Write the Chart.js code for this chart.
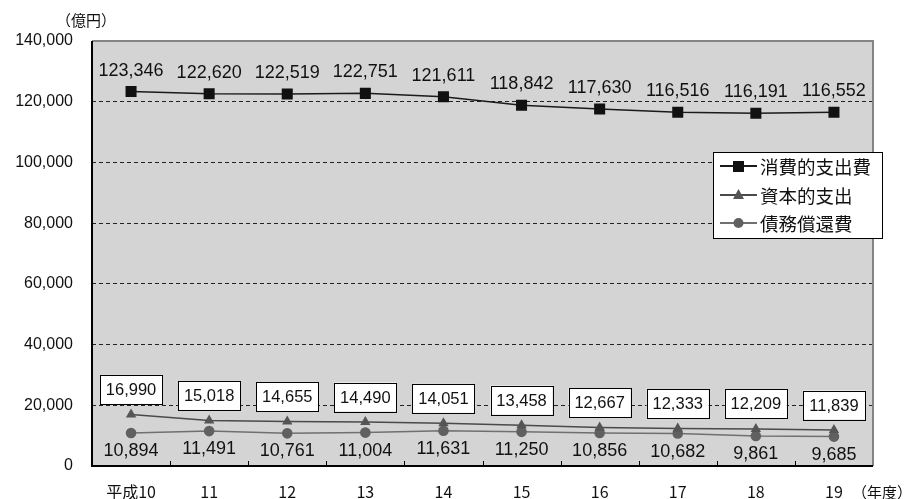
<!DOCTYPE html>
<html lang="ja">
<head>
<meta charset="utf-8">
<title>歳出の推移</title>
<script src="https://cdn.jsdelivr.net/npm/chart.js@4/dist/chart.umd.min.js"></script>
<style>
  html, body { margin: 0; padding: 0; background: #ffffff; }
  #wrap { position: relative; width: 913px; height: 499px; }
</style>
</head>
<body>
<div id="wrap"><canvas id="chart" width="913" height="499"></canvas></div>
<script>
// Fiscal years (平成)
const years = ['平成10', '11', '12', '13', '14', '15', '16', '17', '18', '19'];

// Expenditure by type (億円)
const consumption = [123346, 122620, 122519, 122751, 121611, 118842, 117630, 116516, 116191, 116552];
const capital     = [16990, 15018, 14655, 14490, 14051, 13458, 12667, 12333, 12209, 11839];
const debt        = [10894, 11491, 10761, 11004, 11631, 11250, 10856, 10682, 9861, 9685];

const seriesNames = ['消費的支出費', '資本的支出', '債務償還費'];

const yTicks = [0, 20000, 40000, 60000, 80000, 100000, 120000, 140000];

const FONT = '"Liberation Sans", "Noto Sans CJK JP", Arial, sans-serif';
const JP_FONT = '"Noto Sans CJK JP", "Liberation Sans", sans-serif';

const fmt = v => v.toLocaleString('en-US');

// Gray plot area with black left/bottom border and gray top/right border
const plotFrame = {
  id: 'plotFrame',
  beforeDraw(chart) {
    const { ctx, chartArea: a } = chart;
    ctx.save();
    ctx.fillStyle = '#d4d4d4';
    ctx.fillRect(a.left, a.top, a.right - a.left, a.bottom - a.top);
    ctx.restore();
  },
  afterDraw(chart) {
    const { ctx, chartArea: a } = chart;
    ctx.save();
    ctx.lineWidth = 2;
    ctx.strokeStyle = '#858585';
    ctx.beginPath();
    ctx.moveTo(a.left, a.top);
    ctx.lineTo(a.right, a.top);
    ctx.lineTo(a.right, a.bottom);
    ctx.stroke();
    ctx.strokeStyle = '#000000';
    ctx.beginPath();
    ctx.moveTo(a.left, a.top);
    ctx.lineTo(a.left, a.bottom);
    ctx.lineTo(a.right, a.bottom);
    ctx.stroke();
    // inward tick marks between categories
    const n = years.length;
    const step = (a.right - a.left) / n;
    ctx.lineWidth = 1;
    ctx.beginPath();
    for (let i = 1; i < n; i++) {
      const px = Math.round(a.left + step * i) + 0.5;
      ctx.moveTo(px, a.bottom);
      ctx.lineTo(px, a.bottom - 5);
    }
    ctx.stroke();
    ctx.restore();
  }
};

// Value labels for each series
const valueLabels = {
  id: 'valueLabels',
  afterDatasetsDraw(chart) {
    const { ctx } = chart;
    ctx.save();
    ctx.textAlign = 'center';
    ctx.textBaseline = 'middle';
    ctx.fillStyle = '#111111';

    // consumption: plain text above the points
    ctx.font = '18px ' + FONT;
    chart.getDatasetMeta(0).data.forEach((pt, i) => {
      ctx.fillText(fmt(consumption[i]), pt.x, pt.y - 21);
    });

    // capital: boxed labels above the points
    ctx.font = '16.5px ' + FONT;
    chart.getDatasetMeta(1).data.forEach((pt, i) => {
      const cy = pt.y - 25;
      const w = 62, h = 29;
      ctx.fillStyle = '#ffffff';
      ctx.fillRect(pt.x - w / 2, cy - h / 2, w, h);
      ctx.strokeStyle = '#000000';
      ctx.lineWidth = 1;
      ctx.strokeRect(Math.round(pt.x - w / 2) + 0.5, Math.round(cy - h / 2) + 0.5, w, h);
      ctx.fillStyle = '#111111';
      ctx.fillText(fmt(capital[i]), pt.x, cy + 1);
    });

    // debt service: plain text below the points
    ctx.font = '18px ' + FONT;
    chart.getDatasetMeta(2).data.forEach((pt, i) => {
      ctx.fillText(fmt(debt[i]), pt.x, pt.y + 18);
    });
    ctx.restore();
  }
};

// Unit captions and the boxed legend
const captions = {
  id: 'captions',
  afterDraw(chart) {
    const { ctx } = chart;
    ctx.save();
    ctx.fillStyle = '#111111';
    ctx.textBaseline = 'middle';
    ctx.font = '15px ' + JP_FONT;
    ctx.textAlign = 'left';
    ctx.fillText('（億円）', 56, 20);
    ctx.fillText('（年度）', 852, 492);

    // legend
    const lx = 713, ly = 152, lw = 169, lh = 86;
    ctx.fillStyle = '#ffffff';
    ctx.fillRect(lx, ly, lw, lh);
    ctx.strokeStyle = '#000000';
    ctx.lineWidth = 1;
    ctx.strokeRect(lx + 0.5, ly + 0.5, lw, lh);

    const rows = [166, 195, 223];
    const ds = chart.data.datasets;
    ds.forEach((d, i) => {
      const y = rows[i];
      ctx.strokeStyle = d.borderColor;
      ctx.lineWidth = 2;
      ctx.beginPath();
      ctx.moveTo(720, y);
      ctx.lineTo(757, y);
      ctx.stroke();
      ctx.fillStyle = d.pointBackgroundColor;
      if (d.pointStyle === 'rect') {
        ctx.fillRect(733, y - 5, 11, 11);
      } else if (d.pointStyle === 'triangle') {
        ctx.beginPath();
        ctx.moveTo(738.5, y - 6);
        ctx.lineTo(744, y + 4);
        ctx.lineTo(733, y + 4);
        ctx.closePath();
        ctx.fill();
      } else {
        ctx.beginPath();
        ctx.arc(738.5, y, 5, 0, Math.PI * 2);
        ctx.fill();
      }
      ctx.fillStyle = '#111111';
      ctx.font = '18.5px ' + JP_FONT;
      ctx.textAlign = 'left';
      ctx.fillText(seriesNames[i], 760, y + 1);
    });
    ctx.restore();
  }
};

new Chart(document.getElementById('chart'), {
  type: 'line',
  data: {
    labels: years,
    datasets: [
      {
        label: seriesNames[0],
        data: consumption,
        borderColor: '#1a1a1a',
        borderWidth: 1.5,
        pointStyle: 'rect',
        pointRadius: 7.8,
        pointBackgroundColor: '#111111',
        pointBorderColor: '#111111',
        pointBorderWidth: 0,
        tension: 0
      },
      {
        label: seriesNames[1],
        data: capital,
        borderColor: '#4a4a4a',
        borderWidth: 1.5,
        pointStyle: 'triangle',
        pointRadius: 6,
        pointBackgroundColor: '#555555',
        pointBorderColor: '#555555',
        pointBorderWidth: 0,
        tension: 0
      },
      {
        label: seriesNames[2],
        data: debt,
        borderColor: '#707070',
        borderWidth: 1.5,
        pointStyle: 'circle',
        pointRadius: 5.3,
        pointBackgroundColor: '#606060',
        pointBorderColor: '#606060',
        pointBorderWidth: 0,
        tension: 0
      }
    ]
  },
  options: {
    responsive: false,
    animation: false,
    devicePixelRatio: 1,
    layout: { padding: { left: 0, top: 41, right: 40, bottom: 0 } },
    plugins: {
      legend: { display: false },
      tooltip: { enabled: false }
    },
    scales: {
      x: {
        type: 'category',
        offset: true,
        grid: { display: false, drawTicks: false },
        border: { display: false },
        ticks: {
          color: '#111111',
          font: { size: 16, family: JP_FONT },
          padding: 16,
          maxRotation: 0,
          autoSkip: false
        },
        afterFit(scale) { scale.height = 33; }
      },
      y: {
        min: 0,
        max: 140000,
        afterBuildTicks(scale) { scale.ticks = yTicks.map(v => ({ value: v })); },
        grid: {
          drawTicks: false,
          color: ctx => (ctx.tick && (ctx.tick.value === 0 || ctx.tick.value === 140000)) ? 'rgba(0,0,0,0)' : '#222222',
          lineWidth: 1
        },
        border: { display: false, dash: [4, 3] },
        ticks: {
          color: '#111111',
          font: { size: 16, family: FONT },
          padding: 19,
          callback: v => fmt(v)
        },
        afterFit(scale) { scale.width = 92; }
      }
    }
  },
  plugins: [plotFrame, valueLabels, captions]
});
</script>
</body>
</html>
